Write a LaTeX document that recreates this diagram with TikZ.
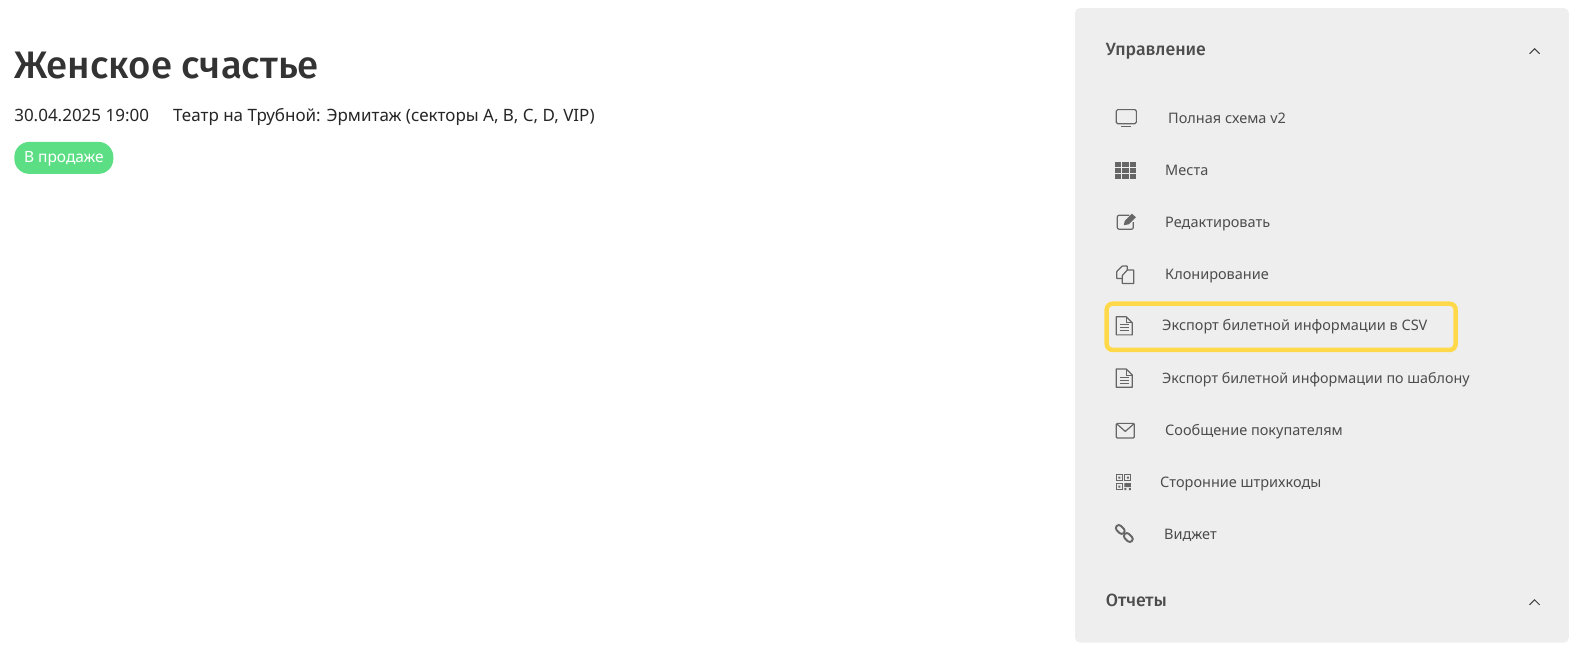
\documentclass[tikz,border=0pt]{standalone}
\usepackage{fontspec}
\setmainfont{Noto Sans}
\newfontfamily\medfont{Fira Sans Medium}
\usetikzlibrary{positioning}
\definecolor{paneln}{HTML}{EEEEEE}
\definecolor{itemc}{HTML}{4D4D4D}
\definecolor{iconc}{HTML}{666666}
\definecolor{titlec}{HTML}{333333}
\definecolor{markc}{HTML}{FFD94A}
\definecolor{salec}{HTML}{5CDE85}
\tikzset{
    menuitem/.style={anchor=base west,inner sep=0pt,text=itemc,font=\fontsize{14.5}{16}\selectfont},
    grouphead/.style={anchor=base west,inner sep=0pt,text=itemc,font=\medfont\fontsize{17.7}{19}\selectfont},
    infotext/.style={anchor=base west,inner sep=0pt,text=black!85,font=\fontsize{17}{19}\selectfont},
    icon/.style={draw=iconc,line width=1.2pt},
    chevron/.style={draw=black!75,line width=1pt},
}
\begin{document}
\begin{tikzpicture}[x=1.0056pt,y=-1.0056pt]
    \useasboundingbox (0,0) rectangle (1567.2,645.4);
    \fill[white] (0,0) rectangle (1567.2,645.4);
    \fill[paneln,rounded corners=5pt] (1069,8) rectangle (1560,639);

    % left part
    \node[anchor=base west,inner sep=0pt,text=titlec,font=\medfont\fontsize{38.3}{40}\selectfont] (title) at (14,78) {Женское счастье};
    \node[infotext] (date) at (14,121) {30.04.2025 19:00};
    \node[infotext] (place) at (172,121) {Театр на Трубной: Эрмитаж (секторы A, B, C, D, VIP)};
    \node[fill=salec,rounded corners=15pt,minimum width=99pt,minimum height=32pt,inner sep=0pt,text height=11.5pt,text depth=1.5pt,text=white,font=\fontsize{15.5}{18}\selectfont] (sale) at (63.5,157) {В продаже};

    % panel
    \node[grouphead] (manage) at (1099.5,55) {Управление};
    \node[grouphead] (reports) at (1099.5,603) {Отчеты};
    \draw[chevron] (1521,53.5) -- (1526,48.5) -- (1531,53.5);
    \draw[chevron] (1521,601.5) -- (1526,596.5) -- (1531,601.5);

    \node[menuitem] (full) at (1161.5,123) {Полная схема v2};
    \node[menuitem] (seats) at (1158.5,175) {Места};
    \node[menuitem] (edit) at (1158.5,226) {Редактировать};
    \node[menuitem] (clone) at (1158.5,278) {Клонирование};
    \node[menuitem] (csv) at (1155.5,329) {Экспорт билетной информации в CSV};
    \node[menuitem,font=\fontsize{14.3}{16}\selectfont] (tmpl) at (1155.5,381) {Экспорт билетной информации по шаблону};
    \node[menuitem] (msg) at (1158.5,433) {Сообщение покупателям};
    \node[menuitem] (codes) at (1153.5,485) {Сторонние штрихкоды};
    \node[menuitem] (widget) at (1157.5,536.5) {Виджет};

    \draw[markc,line width=4.5pt,rounded corners=6pt] (1100.5,302) rectangle (1447.5,348);

    % icons
    \draw[icon,rounded corners=1.5pt] (1110,109) rectangle (1130,123);
    \draw[icon] (1115,125.5) -- (1125,125.5);
    \foreach \i in {0,1,2}
        \foreach \j in {0,1,2}
            \fill[iconc] (1109+7.2*\i,161+6*\j) rectangle +(6,4.8);
    \draw[icon,rounded corners=2pt] (1123,214) -- (1111,214) -- (1111,228) -- (1127,228) -- (1127,221);
    \fill[iconc] (1117.5,224) -- (1118.5,219.5) -- (1125.5,212.5) -- (1129.5,216) -- (1122.5,223) -- cycle;
    \draw[icon,rounded corners=0.5pt] (1116,277) -- (1110.5,277) -- (1110.5,270) -- (1116,264.5) -- (1121,264.5) -- (1121,268.5);
    \draw[icon,rounded corners=0.5pt] (1116,282) -- (1127.5,282) -- (1127.5,268.5) -- (1121,268.5) -- (1116,274) -- cycle;
    \foreach \y in {324,376} {
        \draw[icon,line join=round] (1110,\y-9) -- (1120,\y-9) -- (1126,\y-3) -- (1126,\y+9) -- (1110,\y+9) -- cycle;
        \draw[icon,line width=0.9pt] (1120,\y-9) -- (1120,\y-3) -- (1126,\y-3);
        \foreach \d in {0,3,6}
            \draw[icon,line width=1pt] (1113.5,\y-1+\d) -- (1122.5,\y-1+\d);
    }
    \draw[icon,rounded corners=1pt] (1110,421) rectangle (1128,435.5);
    \draw[icon] (1110.5,421.5) -- (1119,429) -- (1127.5,421.5);
    \draw[icon,line width=1pt] (1110,472) rectangle +(6,6) (1118.5,472) rectangle +(6,6) (1110,481) rectangle +(6,6);
    \fill[iconc] (1112,474) rectangle +(2,2) (1120.5,474) rectangle +(2,2) (1112,483) rectangle +(2,2);
    \fill[iconc] (1118,480.5) rectangle +(6.5,4) (1118,485.5) rectangle +(2,2) (1122.5,485.5) rectangle +(2,2);
    \draw[icon,line width=1.9pt,rounded corners=3pt,rotate around={-45:(1114,526.5)}] (1109,523.5) rectangle (1119,529.5);
    \draw[icon,line width=1.9pt,rounded corners=3pt,rotate around={-45:(1122,534.5)}] (1117,531.5) rectangle (1127,537.5);
\end{tikzpicture}
\end{document}
